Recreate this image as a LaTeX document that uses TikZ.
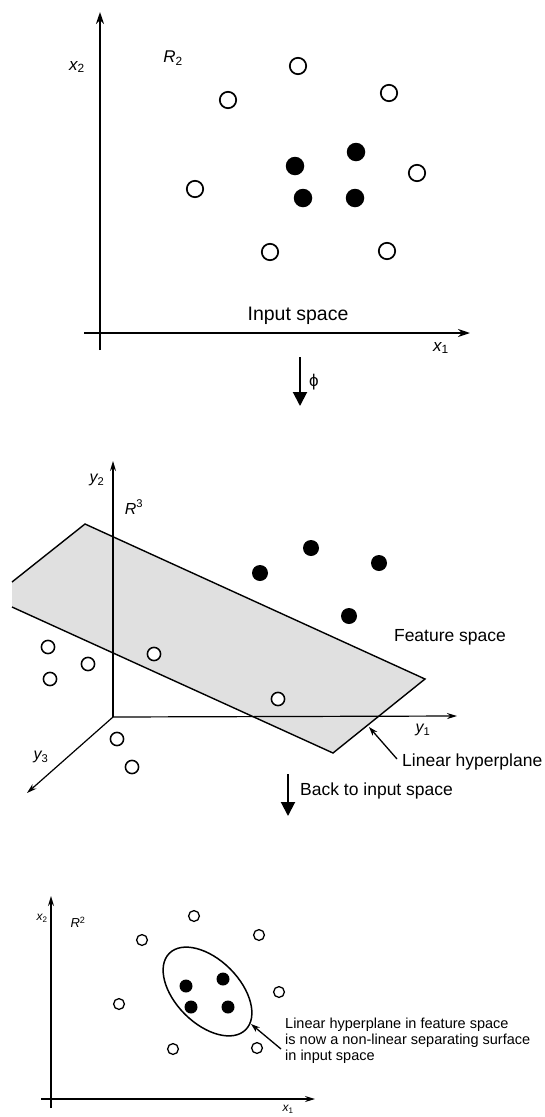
\documentclass[tikz,border=0pt]{standalone}
\usepackage{fontspec}
\setmainfont{Liberation Sans}
\usetikzlibrary{arrows.meta}
\begin{document}
\begin{tikzpicture}[x=1pt,y=-1pt,
  axA/.style={line width=1.8pt,-{Stealth[length=12pt,width=8pt]}},
  axB/.style={line width=1.2pt,-{Stealth[length=10pt,width=6pt]}},
  axC/.style={line width=1.4pt,-{Stealth[length=10pt,width=6pt]}},
  flow/.style={line width=2pt,-{Triangle[length=14pt,width=14pt]}},
  pointer/.style={line width=1.3pt,-{Stealth[length=9pt,width=6pt]}},
  odotA/.style={circle,draw,line width=1.7pt,fill=white,inner sep=0pt,minimum size=16.4pt},
  fdotA/.style={circle,fill=black,inner sep=0pt,minimum size=18.5pt},
  odotB/.style={circle,draw,line width=1.5pt,fill=white,inner sep=0pt,minimum size=13.2pt},
  fdotB/.style={circle,fill=black,inner sep=0pt,minimum size=16pt},
  odotC/.style={circle,draw,line width=1.3pt,fill=white,inner sep=0pt,minimum size=10.8pt},
  fdotC/.style={circle,fill=black,inner sep=0pt,minimum size=13pt},
  lblA/.style={inner sep=0pt,font=\fontsize{17}{20}\selectfont\itshape},
  lblB/.style={inner sep=0pt,font=\fontsize{16}{19}\selectfont\itshape},
  lblC/.style={inner sep=0pt,font=\fontsize{12}{14}\selectfont\itshape},
  txtA/.style={inner sep=0pt,font=\fontsize{19.5}{22}\selectfont},
  txtB/.style={inner sep=0pt,font=\fontsize{17.5}{20}\selectfont},
  txtC/.style={inner sep=0pt,align=left,font=\fontsize{14.5}{16}\selectfont},
  plane/.style={line width=1.4pt}
]
\useasboundingbox (0,0) rectangle (545,1117);

% ---------------- Panel 1: input space ----------------
\coordinate (A-yb) at (100,350);
\coordinate (A-yt) at (100,12);
\coordinate (A-xl) at (84,333);
\coordinate (A-xr) at (470,333);
\draw[axA] (A-yb) -- (A-yt);
\draw[axA] (A-xl) -- (A-xr);
\node[lblA] (A-x2) at (77,67) {x\textsubscript{\upshape 2}};
\node[lblA] (A-R2) at (173,58) {R\textsubscript{\upshape 2}};
\node[lblA] (A-x1) at (441,348) {x\textsubscript{\upshape 1}};
\node[txtA] (A-title) at (298,316) {Input space};

\node[odotA] (A-o1) at (298,66) {};
\node[odotA] (A-o2) at (228,100) {};
\node[odotA] (A-o3) at (389,93) {};
\node[odotA] (A-o4) at (195,189) {};
\node[odotA] (A-o5) at (417,173) {};
\node[odotA] (A-o6) at (270,252) {};
\node[odotA] (A-o7) at (387,251) {};
\node[fdotA] (A-f1) at (356,152) {};
\node[fdotA] (A-f2) at (295,166) {};
\node[fdotA] (A-f3) at (303,198) {};
\node[fdotA] (A-f4) at (355,198) {};

% ---------------- phi arrow ----------------
\coordinate (phi-s) at (300,357);
\coordinate (phi-e) at (300,406);
\draw[flow] (phi-s) -- (phi-e);
\node[inner sep=0pt,font=\fontsize{17}{19}\selectfont] (phi-l) at (314,382) {ϕ};

% ---------------- Panel 2: feature space ----------------
\fill[black!12] (12,582) -- (85,524) -- (425,679) -- (333,753) -- (12,607) -- cycle;
\draw[plane] (12,582) -- (85,524) -- (425,679) -- (333,753) -- (12,607);

\coordinate (B-o) at (113,717);
\coordinate (B-y2) at (113,461);
\coordinate (B-y1) at (457,716);
\coordinate (B-y3) at (27,793);
\draw[axB] (B-o) -- (B-y2);
\draw[axB] (B-o) -- (B-y1);
\draw[axB] (B-o) -- (B-y3);
\node[lblB] (B-ly2) at (97,480) {y\textsubscript{\upshape 2}};
\node[lblB] (B-R3) at (134,507) {R\textsuperscript{\upshape 3}};
\node[lblB] (B-ly1) at (423,730) {y\textsubscript{\upshape 1}};
\node[lblB] (B-ly3) at (41,757) {y\textsubscript{\upshape 3}};
\node[txtB] (B-title) at (450,637) {Feature space};

\node[fdotB] (B-f1) at (260,573) {};
\node[fdotB] (B-f2) at (311,548) {};
\node[fdotB] (B-f3) at (379,563) {};
\node[fdotB] (B-f4) at (349,616) {};
\node[odotB] (B-o1) at (48,647) {};
\node[odotB] (B-o2) at (88,664) {};
\node[odotB] (B-o3) at (50,679) {};
\node[odotB] (B-o4) at (154,654) {};
\node[odotB] (B-o5) at (278,699) {};
\node[odotB] (B-o6) at (117,739) {};
\node[odotB] (B-o7) at (132,767) {};

\node[txtB,anchor=west] (B-hyp) at (402,762) {Linear hyperplane};
\coordinate (B-hypt) at (369,727);
\draw[pointer] (B-hyp.west) ++(-5,-3) coordinate (B-hyps) (B-hyps) -- (B-hypt);

% ---------------- back arrow ----------------
\coordinate (back-s) at (288,774);
\coordinate (back-e) at (288,816);
\draw[flow] (back-s) -- (back-e);
\node[txtB,anchor=west] (back-l) at (300,791) {Back to input space};

% ---------------- Panel 3: back to input space ----------------
\coordinate (C-yb) at (51,1108);
\coordinate (C-yt) at (51,896);
\coordinate (C-xl) at (41,1099);
\coordinate (C-xr) at (315,1099);
\draw[axC] (C-yb) -- (C-yt);
\draw[axC] (C-xl) -- (C-xr);
\node[lblC] (C-x2) at (42,918) {x\textsubscript{\upshape 2}};
\node[lblC,font=\fontsize{13}{15}\selectfont\itshape] (C-R2) at (78,922) {R\textsuperscript{\upshape 2}};
\node[lblC] (C-x1) at (288,1109) {x\textsubscript{\upshape 1}};

\draw[line width=1.5pt] (207.5,991.5) ellipse [x radius=54, y radius=32, rotate=-45];
\coordinate (C-ell) at (251,1024);

\node[odotC] (C-o1) at (194,916) {};
\node[odotC] (C-o2) at (142,940) {};
\node[odotC] (C-o3) at (259,935) {};
\node[odotC] (C-o4) at (119,1004) {};
\node[odotC] (C-o5) at (279,992) {};
\node[odotC] (C-o6) at (173,1049) {};
\node[odotC] (C-o7) at (257,1048) {};
\node[fdotC] (C-f1) at (186,986) {};
\node[fdotC] (C-f2) at (223,979) {};
\node[fdotC] (C-f3) at (191,1007) {};
\node[fdotC] (C-f4) at (228,1007) {};

\node[txtC,anchor=base west] (C-note) at (285,1060) {Linear hyperplane in feature space\\is now a non-linear separating surface\\in input space};
\coordinate (C-ps) at (281,1049);
\draw[pointer] (C-ps) -- (C-ell);
\end{tikzpicture}
\end{document}
